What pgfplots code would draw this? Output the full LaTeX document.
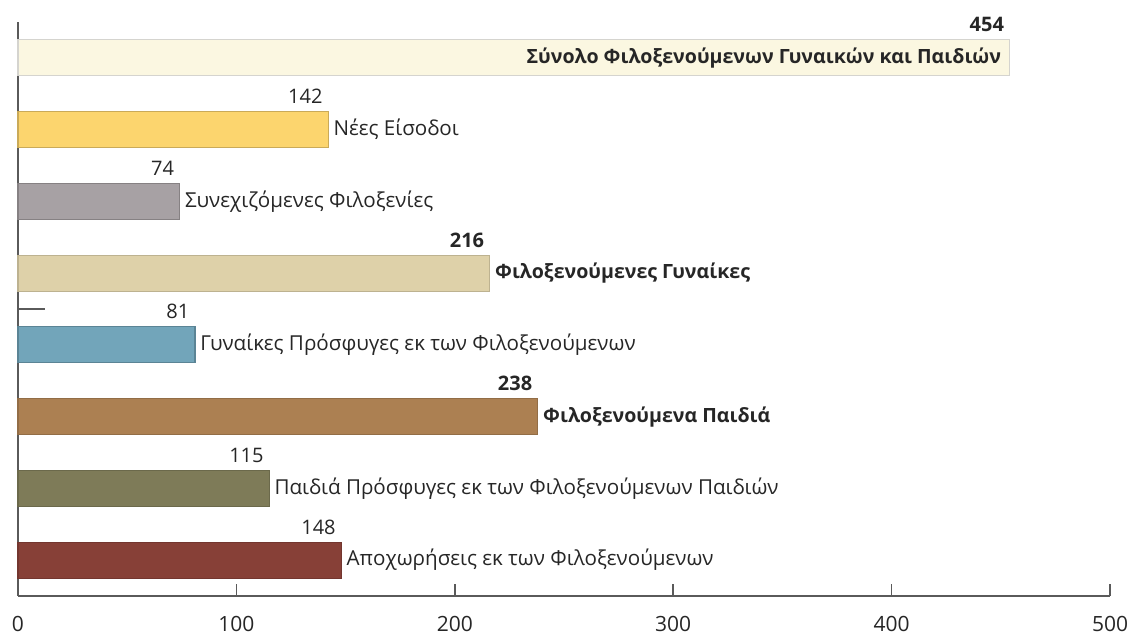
\documentclass[border=0pt]{standalone}
\usepackage{pgfplots}
\pgfplotsset{compat=1.18}
\usepackage{fontspec}
\setmainfont{Open Sans}
\newfontfamily\tickfont{Open Sans}
\definecolor{c1}{HTML}{FBF7E1}
\definecolor{c2}{HTML}{FCD56E}
\definecolor{c3}{HTML}{A7A1A4}
\definecolor{c4}{HTML}{DED1A9}
\definecolor{c5}{HTML}{72A5BA}
\definecolor{c6}{HTML}{AC8052}
\definecolor{c7}{HTML}{7E7B58}
\definecolor{c8}{HTML}{874037}
\definecolor{axgray}{HTML}{5A5A5A}
\newcommand{\lblfont}{\fontsize{10.3}{12}\selectfont}
\newcommand{\boldlbl}{\bfseries\fontsize{9.8}{12}\selectfont}
\begin{document}
\begin{tikzpicture}
\useasboundingbox (-9pt,-19.5pt) rectangle (558pt,298pt);
\begin{axis}[
  at={(0,0)}, anchor=south west,
  scale only axis, width=546pt, height=287pt,
  xmin=0, xmax=500, ymin=-0.5, ymax=7.5,
  axis x line=bottom, axis y line=left,
  axis line style={-, axgray, line width=0.8pt},
  xtick={0,100,...,500},
  ytick=\empty,
  extra y ticks={3.5}, extra y tick labels={},
  extra y tick style={major tick length=13.5pt, tick align=inside, tick style={axgray, line width=0.8pt}},
  tick align=inside, major tick length=6pt,
  tick style={axgray, line width=0.8pt},
  /pgf/number format/assume math mode=true,
  xticklabel style={font=\tickfont\fontsize{10.5}{12}\selectfont, anchor=north, inner sep=0pt, yshift=-9.8pt, text=black!85},
  clip=false,
  point meta=x,
  nodes near coords,
  nodes near coords style={anchor=base east, inner sep=0pt, yshift=13pt, xshift=-2.5pt, font=\fontsize{10}{12}\selectfont, text=black!85},
  every axis plot/.append style={xbar, bar shift=0pt, bar width=18pt, line width=0.6pt},
]
\addplot[fill=c1, draw=c1!60!black!40, nodes near coords style={font=\bfseries\fontsize{10}{12}\selectfont}] coordinates {(454,7)};
\addplot[fill=c2, draw=c2!80!black] coordinates {(142,6)};
\addplot[fill=c3, draw=c3!80!black] coordinates {(74,5)};
\addplot[fill=c4, draw=c4!85!black, nodes near coords style={font=\bfseries\fontsize{10}{12}\selectfont}] coordinates {(216,4)};
\addplot[fill=c5, draw=c5!80!black] coordinates {(81,3)};
\addplot[fill=c6, draw=c6!85!black, nodes near coords style={font=\bfseries\fontsize{10}{12}\selectfont}] coordinates {(238,2)};
\addplot[fill=c7, draw=c7!85!black] coordinates {(115,1)};
\addplot[fill=c8, draw=c8!85!black] coordinates {(148,0)};
\begin{scope}[every node/.style={anchor=west, inner sep=0pt, xshift=-3pt, font=\lblfont, text=black!85}]
\node[xshift=-1pt, font=\boldlbl] at (axis cs:454,7) [anchor=east] {Σύνολο Φιλοξενούμενων Γυναικών και Παιδιών};
\node at (axis cs:142,6) [xshift=5.5pt] {Νέες Είσοδοι};
\node at (axis cs:74,5) [xshift=5.5pt] {Συνεχιζόμενες Φιλοξενίες};
\node[font=\boldlbl] at (axis cs:216,4) [xshift=5.5pt] {Φιλοξενούμενες Γυναίκες};
\node at (axis cs:81,3) [xshift=5.5pt] {Γυναίκες Πρόσφυγες εκ των Φιλοξενούμενων};
\node[font=\boldlbl] at (axis cs:238,2) [xshift=5.5pt] {Φιλοξενούμενα Παιδιά};
\node at (axis cs:115,1) [xshift=5.5pt] {Παιδιά Πρόσφυγες εκ των Φιλοξενούμενων Παιδιών};
\node at (axis cs:148,0) [xshift=5.5pt] {Αποχωρήσεις εκ των Φιλοξενούμενων};
\end{scope}
\end{axis}
\end{tikzpicture}
\end{document}
